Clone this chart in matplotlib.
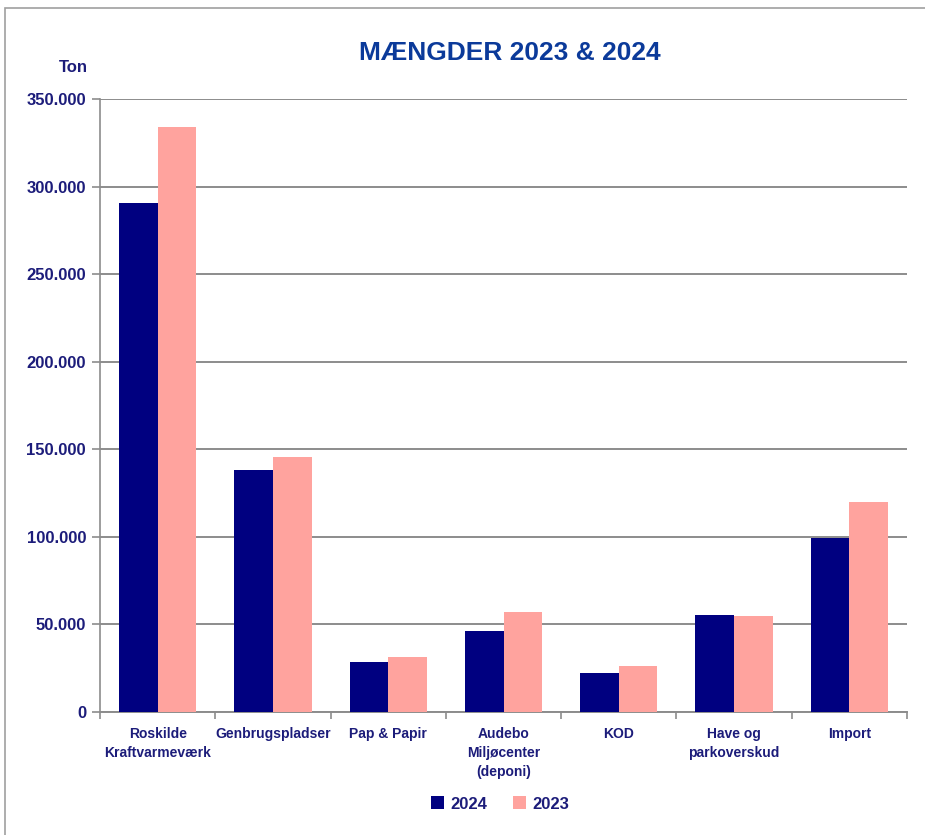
import matplotlib
matplotlib.use("Agg")
import matplotlib.pyplot as plt
from matplotlib.ticker import FuncFormatter, FixedLocator
from matplotlib.patches import Rectangle
import numpy as np

categories = ["Roskilde\nKraftvarmeværk", "Genbrugspladser", "Pap & Papir",
              "Audebo\nMiljøcenter\n(deponi)", "KOD", "Have og\nparkoverskud", "Import"]
values_2024 = [290600, 138200, 28700, 46300, 22300, 55400, 99500]
values_2023 = [334000, 145800, 31600, 57100, 26100, 55000, 120100]
series_labels = ["2024", "2023"]
yticks = [0, 50000, 100000, 150000, 200000, 250000, 300000, 350000]

plt.rcParams['font.family'] = ['Liberation Sans', 'DejaVu Sans']

navy = "#000080"
pink = "#FFA39E"
txt = "#1C1C7A"
grid = "#8C8C8C"

fig = plt.figure(figsize=(9.25, 8.35), dpi=100)
ax = fig.add_axes([100/925, 1 - 712/835, 807/925, 613/835])

# border (only left and top visible, as in the reference crop)
fig.patches.append(Rectangle((5/925, -0.05), 1.1, 1.05 - 8/835, transform=fig.transFigure,
                             fill=False, edgecolor="#A0A0A0", lw=1.2))

x = np.arange(len(categories))
w = 0.335
ax.bar(x - w/2, values_2024, width=w, color=navy, label=series_labels[0], zorder=3)
ax.bar(x + w/2, values_2023, width=w, color=pink, label=series_labels[1], zorder=3)

ax.set_xlim(-0.5, len(categories) - 0.5)
ax.set_ylim(0, 350000)
ax.set_yticks(yticks)
ax.yaxis.set_major_formatter(FuncFormatter(lambda v, p: f"{int(v):,}".replace(",", ".")))
ax.grid(axis='y', color=grid, lw=1.4, zorder=0)
ax.set_axisbelow(True)

ax.xaxis.set_major_locator(FixedLocator(np.arange(-0.5, len(categories), 1.0)))
ax.xaxis.set_major_formatter(FuncFormatter(lambda v, p: ""))
ax.xaxis.set_minor_locator(FixedLocator(x))
ax.set_xticklabels(categories, minor=True)
ax.tick_params(axis='x', which='major', length=5, color=grid, width=1.2)
ax.tick_params(axis='x', which='minor', length=0, pad=11, labelsize=10, labelcolor=txt)
for lab in ax.get_xticklabels(minor=True):
    lab.set_fontweight('bold')
    lab.set_linespacing(1.45)
ax.tick_params(axis='y', length=6, color=grid, width=1.2, labelsize=12, labelcolor=txt, pad=4)
for lab in ax.get_yticklabels():
    lab.set_fontweight('bold')

for s in ['top', 'right']:
    ax.spines[s].set_visible(False)
ax.spines['left'].set_color(grid)
ax.spines['bottom'].set_color(grid)
ax.spines['left'].set_linewidth(1.2)
ax.spines['bottom'].set_linewidth(1.4)

fig.text(510/925, 1 - 53/835, "MÆNGDER 2023 & 2024", ha='center', va='center',
         fontsize=19, fontweight='bold', color="#0B3A9A")
fig.text(73/925, 1 - 68/835, "Ton", ha='center', va='center',
         fontsize=12, fontweight='bold', color=txt)

leg = fig.legend(loc='center', bbox_to_anchor=(500/925, 1 - 804/835), ncol=2, frameon=False,
                 handlelength=0.8, handleheight=0.8, handletextpad=0.4, columnspacing=1.5,
                 prop={'weight': 'bold', 'size': 12})
for t in leg.get_texts():
    t.set_color(txt)

fig.savefig("out.png", dpi=100)
